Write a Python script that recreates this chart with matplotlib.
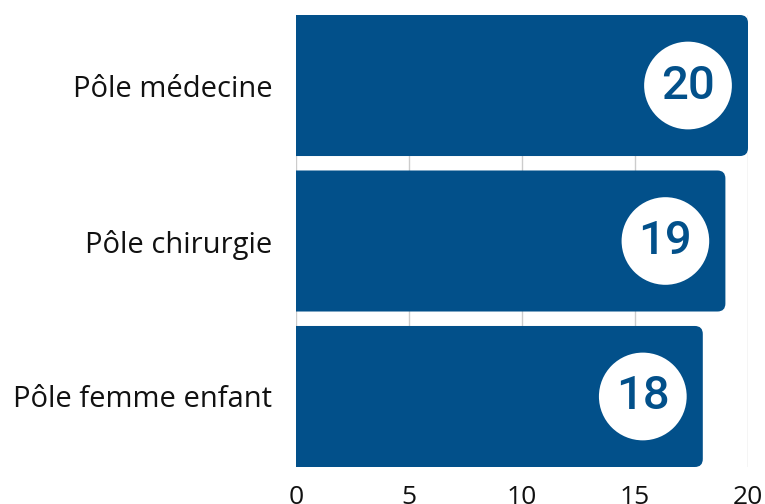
import matplotlib
matplotlib.use("Agg")
import matplotlib.pyplot as plt
from matplotlib.patches import FancyBboxPatch

# data
categories = ["Pôle médecine", "Pôle chirurgie", "Pôle femme enfant"]
values = [20, 19, 18]
xticks = [0, 5, 10, 15, 20]

BLUE = "#02508a"
W, H = 765, 504

plt.rcParams['font.family'] = ['Open Sans', 'DejaVu Sans']

fig = plt.figure(figsize=(W / 100, H / 100), dpi=100)
ax = fig.add_axes([296 / W, 37 / H, 452 / W, 452 / H])

bar_h = 0.907
ax.set_xlim(0, 20)
ax.set_ylim(len(categories) - 1 + bar_h / 2, -bar_h / 2)

# pixel scale of the axes, used to keep the rounded corners circular
px_x = 452 / 20.0
px_y = 452 / (len(categories) - 1 + bar_h)

for i, v in enumerate(values):
    box = FancyBboxPatch((-1, i - bar_h / 2), v + 1, bar_h,
                         boxstyle="round,pad=0,rounding_size=%f" % (8 / px_x),
                         mutation_aspect=px_x / px_y,
                         fc=BLUE, ec="none", zorder=2)
    ax.add_patch(box)

    # value badge: white circle at the bar end, kept inside the plot area
    cx = min(v - 60 / px_x, 20 - 49 / px_x)
    ax.annotate(str(v), (cx, i), ha="center", va="center", fontsize=34,
                family=["Roboto", "DejaVu Sans"], fontweight="medium",
                color=BLUE, zorder=4,
                bbox=dict(boxstyle="circle,pad=0.36", fc="white", ec="none"))

ax.set_yticks(range(len(categories)))
ax.set_yticklabels(categories, fontsize=21, color="#111111")
ax.set_xticks(xticks)
ax.set_xticklabels([str(t) for t in xticks], fontsize=19, color="#111111")
ax.tick_params(axis="y", length=0, pad=17)
ax.tick_params(axis="x", length=0, pad=13)

for s in ax.spines.values():
    s.set_visible(False)
ax.grid(axis="x", color="#cccccc", linewidth=1, zorder=0)
ax.set_axisbelow(True)

fig.savefig("out.png", dpi=100)
